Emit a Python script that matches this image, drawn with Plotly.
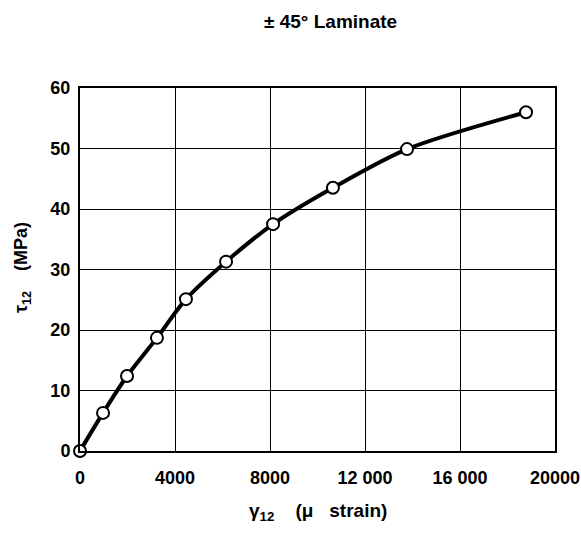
import plotly.graph_objects as go

strain = [0, 970, 1980, 3240, 4460, 6150, 8130, 10650, 13770, 18780]
stress = [0, 6.3, 12.4, 18.7, 25.1, 31.3, 37.5, 43.5, 49.9, 56.0]
x_ticks = [0, 4000, 8000, 12000, 16000, 20000]
x_ticklabels = ["0", "4000", "8000", "12 000", "16 000", "20000"]
y_ticks = [0, 10, 20, 30, 40, 50, 60]

FONT = "Liberation Sans"
L, R, T, B = 80, 26, 88, 82
W, H = 581, 533
PW, PH = W - L - R, H - T - B

fig = go.Figure()
fig.add_trace(go.Scatter(
    x=strain, y=stress, mode="lines+markers",
    line=dict(color="black", width=4, shape="spline", smoothing=0.8),
    marker=dict(size=12, color="white", line=dict(color="black", width=2)),
    cliponaxis=False, showlegend=False,
))

fig.update_layout(
    width=W, height=H,
    margin=dict(l=L, r=R, t=T, b=B, autoexpand=False),
    paper_bgcolor="white", plot_bgcolor="white",
    font=dict(family=FONT, color="black", size=18),
    annotations=[
        dict(text="<b>± 45° Laminate</b>", xref="paper", yref="paper",
             x=(330 - L) / PW, y=1 + (T - 21) / PH, xanchor="center", yanchor="middle",
             showarrow=False, font=dict(size=19)),
        dict(text="<b>γ<sub>12</sub>    (μ   strain)</b>", xref="paper", yref="paper",
             x=(318 - L) / PW, y=-(512 - (T + PH)) / PH, xanchor="center", yanchor="middle",
             showarrow=False, font=dict(size=19)),
        dict(text="<b>τ<sub>12</sub>    (MPa)</b>", xref="paper", yref="paper",
             x=-(L - 22) / PW, y=(T + PH - 268) / PH, xanchor="center", yanchor="middle",
             textangle=-90, showarrow=False, font=dict(size=18)),
    ],
)

fig.update_xaxes(
    range=[0, 20000], tickvals=x_ticks, ticktext=[f"<b>{t}</b>" for t in x_ticklabels],
    showgrid=True, gridcolor="black", gridwidth=1,
    showline=True, linecolor="black", linewidth=2, mirror=True,
    zeroline=False, ticks="", ticklabelstandoff=9, automargin=False,
)
fig.update_yaxes(
    range=[0, 60], tickvals=y_ticks, ticktext=[f"<b>{t}</b>" for t in y_ticks],
    showgrid=True, gridcolor="black", gridwidth=1,
    showline=True, linecolor="black", linewidth=2, mirror=True,
    zeroline=False, ticks="", ticklabelstandoff=4, automargin=False,
)

fig.write_html("out.html")
